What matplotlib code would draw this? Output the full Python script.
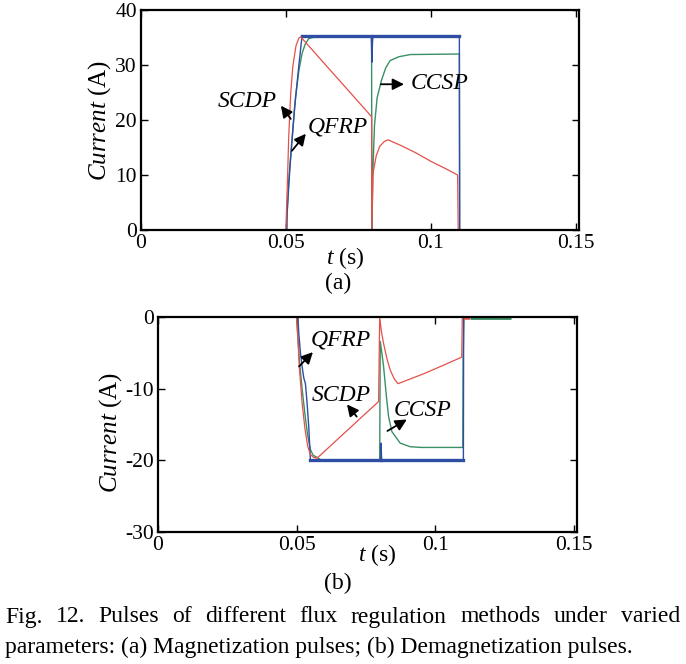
import matplotlib
matplotlib.use('Agg')
import matplotlib.pyplot as plt

plt.rcParams['font.family'] = ['Liberation Serif', 'DejaVu Serif']
plt.rcParams['mathtext.fontset'] = 'custom'
plt.rcParams['mathtext.rm'] = 'Liberation Serif'
plt.rcParams['mathtext.it'] = 'Liberation Serif:italic'
plt.rcParams['axes.unicode_minus'] = False

RED = '#e4504a'
GREEN = '#3a8f66'
BLUE = '#2d4ea3'

# (a) magnetization pulses
ta_qfrp = [0, 0.0503, 0.0504, 0.0515, 0.0530, 0.0545, 0.0556, 0.0795, 0.0797, 0.0799, 0.0801, 0.1099, 0.1100, 0.1512]
ia_qfrp = [0, 0, 3, 12, 22, 30, 35.3, 35.3, 30.5, 34, 35.3, 35.3, 0, 0]

ta_ccsp = [0, 0.0502, 0.0510, 0.0522, 0.0533, 0.0545, 0.0556, 0.0567, 0.0579, 0.0600, 0.0796, 0.0797,
           0.0800, 0.0806, 0.0815, 0.0830, 0.0845, 0.0860, 0.0890, 0.0930, 0.1099, 0.1100, 0.1512]
ia_ccsp = [0, 0, 9, 17, 24, 29, 32.1, 33.8, 34.8, 35.1, 35.1, 0,
           10, 19, 24, 27.2, 29.5, 30.8, 31.5, 31.9, 32, 0, 0]

ta_scdp = [0, 0.0500, 0.0505, 0.0510, 0.0517, 0.0524, 0.0535, 0.0545, 0.0551, 0.0560, 0.0796, 0.0797,
           0.0801, 0.0812, 0.0824, 0.0840, 0.0853, 0.0900, 0.0950, 0.1000, 0.1050, 0.1093, 0.1095, 0.1512]
ia_scdp = [0, 0, 8, 17, 25, 29.7, 33.5, 34.9, 35.1, 34.6, 20.6, 0,
           10.3, 13.5, 15.2, 16.1, 16.4, 15.3, 14.0, 12.5, 11.2, 10.0, 0, 0]

# (b) demagnetization pulses
tb_qfrp = [0, 0.0505, 0.0508, 0.0514, 0.0520, 0.0526, 0.0532, 0.0538, 0.0544, 0.0550, 0.0803, 0.0805,
           0.0807, 0.1102, 0.1103, 0.1512]
ib_qfrp = [0, 0, -2.3, -5, -6.9, -8.5, -9.3, -12, -15.3, -20, -20, -17.6, -20, -20, 0, 0]

tb_ccsp = [0, 0.0500, 0.0505, 0.0510, 0.0520, 0.0530, 0.0540, 0.0550, 0.0560, 0.0575, 0.0590, 0.0800,
           0.0802, 0.0808, 0.0814, 0.0824, 0.0832, 0.0844, 0.0874, 0.0910, 0.0950, 0.1100, 0.1101, 0.1104, 0.1512]
ib_ccsp = [0, 0, -3, -6, -10, -13.5, -16.5, -18.5, -19.3, -19.6, -20, -20,
           -3.4, -5.1, -6.9, -11, -13.9, -16, -17.6, -18.1, -18.2, -18.2, -5.7, 0, 0]

tb_scdp = [0, 0.0500, 0.0505, 0.0510, 0.0520, 0.0530, 0.0540, 0.0550, 0.0562, 0.0574, 0.0796, 0.0800,
           0.0806, 0.0814, 0.0826, 0.0838, 0.0852, 0.0866, 0.0900, 0.0960, 0.1020, 0.1096, 0.1098, 0.1512]
ib_scdp = [0, 0, -3, -7, -12, -15.5, -18, -19.2, -19.6, -19.7, -11.8, 0,
           -2, -3.7, -5.8, -7.4, -8.6, -9.3, -8.8, -7.9, -6.9, -5.6, 0, 0]

# thick stubs at zero after the pulse in (b)
tb_stub_red = [0.1103, 0.1127]
tb_stub_green = [0.1127, 0.1273]

caption1 = 'Fig. 12. Pulses of different flux regulation methods under varied'
caption2 = 'parameters: (a) Magnetization pulses; (b) Demagnetization pulses.'

fig = plt.figure(figsize=(6.86, 6.64), dpi=100)
ax1 = fig.add_axes([141/686, 1-230/664, 438/686, 220/664])
ax2 = fig.add_axes([158/686, 1-532/664, 419/686, 215/664])

arrow = dict(arrowstyle='-|>', color='black', lw=1.3, mutation_scale=17,
             shrinkA=0, shrinkB=0)

# panel (a)
ax1.plot(ta_ccsp, ia_ccsp, color=GREEN, lw=1.0)
ax1.plot(ta_qfrp, ia_qfrp, color=BLUE, lw=1.0)
ax1.plot(ta_qfrp[6:8], ia_qfrp[6:8], color=BLUE, lw=2.4)
ax1.plot(ta_qfrp[10:12], ia_qfrp[10:12], color=BLUE, lw=2.4)
ax1.plot(ta_scdp, ia_scdp, color=RED, lw=0.9)
ax1.set_xlim(0, 0.1512)
ax1.set_ylim(0, 40)
ax1.set_yticks([0, 10, 20, 30, 40])
ax1.set_xticks([0, 0.05, 0.1, 0.15])
ax1.set_xticklabels(['0', '0.05', '0.1', '0.15'])

ax1.text(0.0469, 23.4, 'SCDP', style='italic', fontsize=17, ha='right', va='center')
ax1.annotate('', xy=(0.0483, 22.6), xytext=(0.0517, 20.2), arrowprops=arrow)
ax1.text(0.0577, 18.8, 'QFRP', style='italic', fontsize=17, ha='left', va='center')
ax1.annotate('', xy=(0.0569, 17.5), xytext=(0.0521, 14.4), arrowprops=arrow)
ax1.text(0.0930, 26.7, 'CCSP', style='italic', fontsize=17, ha='left', va='center')
ax1.annotate('', xy=(0.0908, 26.5), xytext=(0.0828, 26.5), arrowprops=arrow)

# panel (b)
ax2.plot(tb_ccsp, ib_ccsp, color=GREEN, lw=1.0)
ax2.plot(tb_qfrp, ib_qfrp, color=BLUE, lw=1.0)
ax2.plot(tb_qfrp[9:11], ib_qfrp[9:11], color=BLUE, lw=2.4)
ax2.plot(tb_qfrp[12:14], ib_qfrp[12:14], color=BLUE, lw=2.4)
ax2.plot(tb_scdp, ib_scdp, color=RED, lw=0.9)
ax2.plot(tb_stub_green, [0, 0], color=GREEN, lw=3.5, solid_capstyle='butt')
ax2.plot(tb_stub_red, [0, 0], color=RED, lw=4, solid_capstyle='butt')
ax2.set_xlim(0, 0.1512)
ax2.set_ylim(-30, 0)
ax2.set_yticks([0, -10, -20, -30])
ax2.set_xticks([0, 0.05, 0.1, 0.15])
ax2.set_xticklabels(['0', '0.05', '0.1', '0.15'])

ax2.text(0.0550, -3.2, 'QFRP', style='italic', fontsize=17, ha='left', va='center')
ax2.annotate('', xy=(0.0559, -4.9), xytext=(0.0509, -6.9), arrowprops=arrow)
ax2.text(0.0553, -10.9, 'SCDP', style='italic', fontsize=17, ha='left', va='center')
ax2.annotate('', xy=(0.0682, -12.2), xytext=(0.0717, -13.9), arrowprops=arrow)
ax2.text(0.0852, -13.0, 'CCSP', style='italic', fontsize=17, ha='left', va='center')
ax2.annotate('', xy=(0.0898, -14.3), xytext=(0.0828, -15.9), arrowprops=arrow)

for ax in (ax1, ax2):
    ax.tick_params(direction='in', top=True, right=True, length=5, width=1,
                   labelsize=15.5, pad=3)
    for s in ax.spines.values():
        s.set_linewidth(1.6)

ax1.text(-0.094, 0.5, r'$\mathit{Current}$ (A)', transform=ax1.transAxes, rotation=90,
         fontsize=18, ha='center', va='center')
ax2.text(-0.112, 0.465, r'$\mathit{Current}$ (A)', transform=ax2.transAxes, rotation=90,
         fontsize=18, ha='center', va='center')
ax1.text(0.466, -0.127, r'$\mathit{t}$ (s)', transform=ax1.transAxes, fontsize=17,
         ha='center', va='center')
ax2.text(0.523, -0.107, r'$\mathit{t}$ (s)', transform=ax2.transAxes, fontsize=17,
         ha='center', va='center')
ax1.text(0.45, -0.241, '(a)', transform=ax1.transAxes, fontsize=17, ha='center', va='center')
ax2.text(0.43, -0.237, '(b)', transform=ax2.transAxes, fontsize=17, ha='center', va='center')

# caption: first line justified to the full width, second left-aligned
renderer = fig.canvas.get_renderer()
words = caption1.split()
word_texts = [fig.text(0, 1-617/664, w, fontsize=17, ha='left', va='center') for w in words]
widths = [t.get_window_extent(renderer).width for t in word_texts]
gap = (675 - sum(widths)) / (len(words) - 1)
x = 5
for t, w in zip(word_texts, widths):
    t.set_x(x / 686)
    x += w + gap
fig.text(5/686, 1-647/664, caption2, fontsize=17, ha='left', va='center')

fig.savefig('out.png', dpi=100)
